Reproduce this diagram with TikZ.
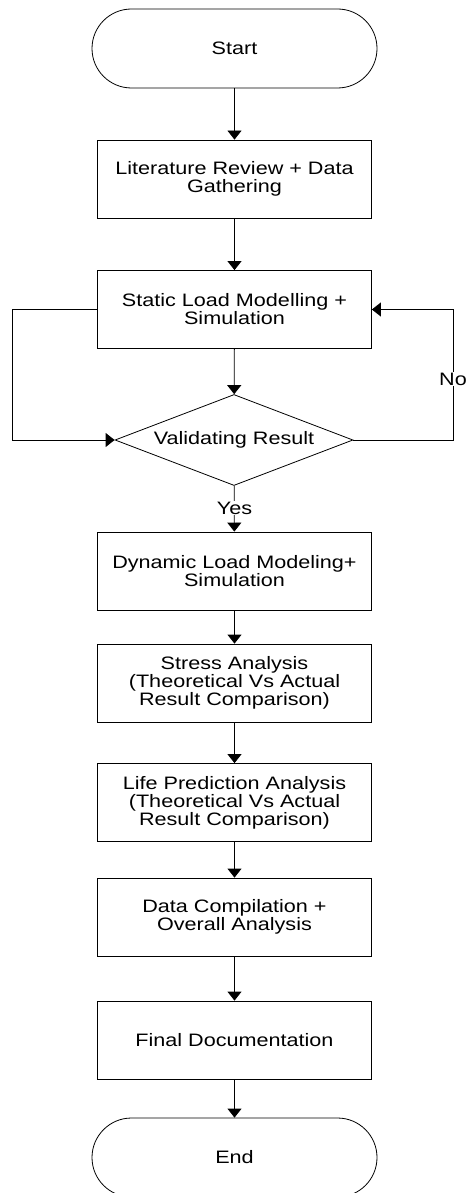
\documentclass[tikz,border=0pt]{standalone}
\usepackage{fontspec}
\setmainfont{Liberation Sans}[FakeStretch=1.2]
\usetikzlibrary{shapes.geometric, arrows.meta}
\tikzstyle{procBox}=[shape = rectangle, draw, line width = 0.8pt, minimum width = 274pt, minimum height = 78pt, inner sep = 0pt, align = center, font = \fontsize{18}{18}\selectfont]
\tikzstyle{termBox}=[shape = rectangle, draw, line width = 0.8pt, rounded corners = 39.5pt, minimum width = 285pt, minimum height = 79pt, inner sep = 0pt, font = \fontsize{18}{18}\selectfont]
\tikzstyle{decBox}=[shape = diamond, draw, line width = 0.8pt, aspect = 2.6, minimum width = 238pt, minimum height = 91pt, inner sep = 0pt, font = \fontsize{18}{18}\selectfont]
\tikzstyle{flowArrow}=[-{Triangle[length = 9pt, width = 14pt]}, line width = 0.8pt]
\tikzstyle{flowLabel}=[fill = white, inner sep = 1pt, font = \fontsize{18}{18}\selectfont]

\begin{document}
\begin{tikzpicture}[x = 1pt, y = -1pt]
\useasboundingbox (0,0) rectangle (466,1193);
\clip (0,0) rectangle (466,1193);
\node[termBox] (start) at (234.5,48.5) {Start};
\node[procBox] (litRev) at (234.5,179) {Literature Review + Data\\Gathering};
\node[procBox] (staticSim) at (234.5,309.5) {Static Load Modelling +\\Simulation};
\node[decBox] (valid) at (234,440) {Validating Result};
\node[procBox] (dynSim) at (234.5,571) {Dynamic Load Modeling+\\Simulation};
\node[procBox] (stressAn) at (234.5,683) {Stress Analysis\\(Theoretical Vs Actual\\Result Comparison)};
\node[procBox] (lifePred) at (234.5,802.5) {Life Prediction Analysis\\(Theoretical Vs Actual\\Result Comparison)};
\node[procBox] (dataComp) at (234.5,917) {Data Compilation +\\Overall Analysis};
\node[procBox] (finalDoc) at (234.5,1040) {Final Documentation};
\node[termBox] (stop) at (234.5,1157.5) {End};
\coordinate (loopL) at (12,309.5);
\coordinate (loopR) at (453,309.5);
% main flow
\draw[flowArrow] (start) -- (litRev);
\draw[flowArrow] (litRev) -- (staticSim);
\draw[flowArrow] (staticSim) -- (valid);
\draw[flowArrow] (valid) -- (dynSim);
\draw[flowArrow] (dynSim) -- (stressAn);
\draw[flowArrow] (stressAn) -- (lifePred);
\draw[flowArrow] (lifePred) -- (dataComp);
\draw[flowArrow] (dataComp) -- (finalDoc);
\draw[flowArrow] (finalDoc) -- (stop);
% loops
\draw[flowArrow] (staticSim.west) -- (loopL) |- (valid.west);
\draw[flowArrow] (valid.east) -| (loopR) -- (staticSim.east);
\node[flowLabel] (yesLbl) at (234.5,508) {Yes};
\node[flowLabel] (noLbl) at (453,379) {No};
\end{tikzpicture}
\end{document}
